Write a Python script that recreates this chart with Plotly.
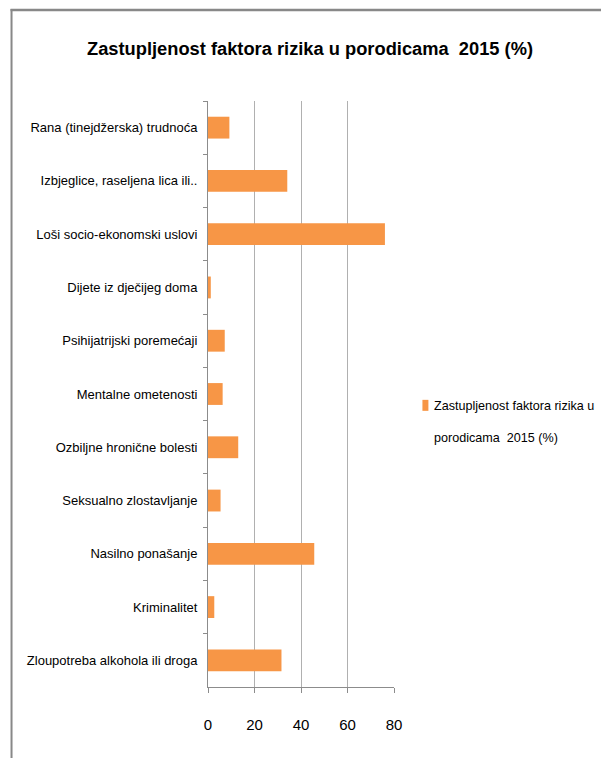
import plotly.graph_objects as go

categories = [
    "Rana (tinejdžerska) trudnoća",
    "Izbjeglice, raseljena lica ili..",
    "Loši socio-ekonomski uslovi",
    "Dijete iz dječijeg doma",
    "Psihijatrijski poremećaji",
    "Mentalne ometenosti",
    "Ozbiljne hronične bolesti",
    "Seksualno zlostavljanje",
    "Nasilno ponašanje",
    "Kriminalitet",
    "Zloupotreba alkohola ili droga",
]
values = [9.2, 34.1, 76.1, 1.2, 7.2, 6.3, 13.0, 5.4, 45.7, 2.7, 31.6]
series_line1 = "Zastupljenost faktora rizika u"
series_line2 = "porodicama  2015 (%)"
title_text = "Zastupljenost faktora rizika u porodicama  2015 (%)"
x_ticks = [0, 20, 40, 60, 80]

FONT = "Liberation Sans, Arial, sans-serif"
BAR_COLOR = "#F79646"

fig = go.Figure(
    go.Bar(
        y=categories,
        x=values,
        orientation="h",
        name=series_line1 + " " + series_line2,
        marker=dict(color=BAR_COLOR, line=dict(width=0)),
        showlegend=False,
    )
)

# plot area geometry (pixels)
L, R, T, B = 207.5, 394.0, 101.0, 687.3
W, H = 601, 758

def px(xp):
    return (xp - L) / (R - L)

def py(yp):
    return (B - yp) / (B - T)

fig.update_layout(
    width=W,
    height=H,
    margin=dict(l=L, r=W - R, t=T, b=H - B, pad=0, autoexpand=False),
    paper_bgcolor="white",
    plot_bgcolor="white",
    font=dict(family=FONT, color="#000000", size=13),
    title=dict(
        text="<b>" + title_text + "</b>",
        font=dict(family=FONT, size=18.3, color="#000000"),
        x=310 / W,
        xanchor="center",
        y=1 - 49 / H,
        yanchor="middle",
    ),
    bargap=0.59,
    xaxis=dict(
        range=[0, 80],
        tickvals=x_ticks,
        showgrid=True,
        gridcolor="#B0B0B0",
        gridwidth=1,
        showline=True,
        linecolor="#8C8C8C",
        linewidth=1,
        ticks="outside",
        ticklen=5,
        tickcolor="#8C8C8C",
        tickfont=dict(family=FONT, size=15, color="#000000"),
        ticklabelstandoff=19,
        zeroline=False,
        automargin=False,
        fixedrange=True,
    ),
    yaxis=dict(
        autorange="reversed",
        showline=True,
        linecolor="#8C8C8C",
        linewidth=1,
        ticks="outside",
        ticklen=4,
        tickcolor="#8C8C8C",
        tickson="boundaries",
        tickfont=dict(family=FONT, size=13, color="#000000"),
        ticklabelstandoff=7,
        showgrid=False,
        automargin=False,
        fixedrange=True,
    ),
    shapes=[
        # chart frame
        dict(type="line", xref="paper", yref="paper",
             x0=px(10.5), x1=px(10.5), y0=py(9), y1=py(760),
             line=dict(color="#888888", width=2)),
        dict(type="line", xref="paper", yref="paper",
             x0=px(9.5), x1=px(603), y0=py(10), y1=py(10),
             line=dict(color="#888888", width=2.5)),
        # legend key
        dict(type="rect", xref="paper", yref="paper",
             x0=px(422.5), x1=px(428.5), y0=py(400), y1=py(411),
             fillcolor=BAR_COLOR, line=dict(width=0)),
    ],
    annotations=[
        dict(text=series_line1, xref="paper", yref="paper",
             x=px(432), y=py(406), xanchor="left", yanchor="middle",
             showarrow=False, font=dict(family=FONT, size=12.6, color="#000000")),
        dict(text=series_line2, xref="paper", yref="paper",
             x=px(432), y=py(438), xanchor="left", yanchor="middle",
             showarrow=False, font=dict(family=FONT, size=12.6, color="#000000")),
    ],
)

fig.write_html(
    "out.html",
    config={"displayModeBar": False, "staticPlot": True},
    post_script="document.body.style.margin='0';document.body.style.padding='0';",
)
